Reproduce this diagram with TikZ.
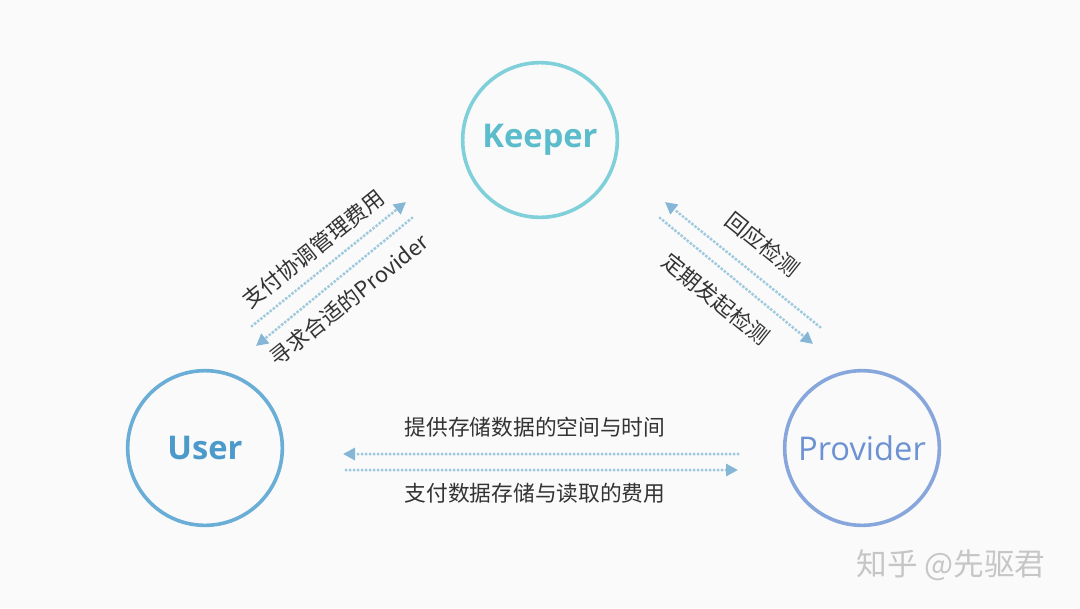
\documentclass[tikz,border=0pt]{standalone}
\usepackage{fontspec}
\setmainfont{Open Sans}
\newfontfamily\cjk{Noto Sans CJK SC}
\usetikzlibrary{arrows.meta}
\definecolor{bgc}{HTML}{FAFAFA}
\definecolor{keepc}{HTML}{80D0DA}
\definecolor{keept}{HTML}{5BBCCB}
\definecolor{userc}{HTML}{6AADD6}
\definecolor{usert}{HTML}{4C9ACB}
\definecolor{provc}{HTML}{87A6DC}
\definecolor{provt}{HTML}{6D92D3}
\definecolor{linec}{HTML}{9FC9DE}
\definecolor{tipc}{HTML}{86B6D6}
\definecolor{labc}{HTML}{333333}
\definecolor{markc}{HTML}{C6C6C6}
\tikzset{
  role/.style={circle, draw=#1, line width=2.7pt, minimum size=116pt, inner sep=0pt, font=\fontsize{24.5}{28}\selectfont},
  flow/.style={draw=linec, line width=2.6pt, line cap=round, dash pattern=on 0pt off 3pt,
    -{Triangle[length=9pt,width=9pt,fill=tipc,color=tipc,line cap=butt]}, shorten >=0pt},
  lab/.style={text=labc, font=\cjk\fontsize{16.3}{19}\selectfont, inner sep=0pt}
}
\begin{document}
\begin{tikzpicture}[x=0.75pt,y=-0.75pt]
\fill[bgc] (0,0) rectangle (1080,608);
\useasboundingbox (0,0) rectangle (1080,608);

\node[role=keepc, text=keept] (keeper) at (540,140) {\bfseries Keeper};
\node[role=userc, text=usert] (user) at (205,448) {\bfseries User};
\node[role=provc, text=provt] (provider) at (862,448) {Provider};

% left pair
\coordinate (l1s) at (252,326);
\coordinate (l1e) at (406,202);
\coordinate (l2s) at (412,218);
\coordinate (l2e) at (256,346);
\draw[flow] (l1s) -- (l1e);
\draw[flow] (l2s) -- (l2e);
\node[lab, rotate=38.6] (lt) at (313,249) {支付协调管理费用};
\node[lab, rotate=38.6] (lb) at (349,300) {寻求合适的Provider};

% right pair
\coordinate (r1s) at (820,327);
\coordinate (r1e) at (665,202);
\coordinate (r2s) at (660,218);
\coordinate (r2e) at (813,344);
\draw[flow] (r1s) -- (r1e);
\draw[flow] (r2s) -- (r2e);
\node[lab, rotate=-38.8] (rt) at (763,244) {回应检测};
\node[lab, rotate=-38.8] (rb) at (716,299) {定期发起检测};

% bottom pair
\coordinate (b1s) at (738,454);
\coordinate (b1e) at (343,454);
\coordinate (b2s) at (346,470);
\coordinate (b2e) at (738,470);
\draw[flow] (b1s) -- (b1e);
\draw[flow] (b2s) -- (b2e);
\node[lab] (bt) at (535,427) {提供存储数据的空间与时间};
\node[lab] (bb) at (535,493) {支付数据存储与读取的费用};

% watermark
\node[text=markc, font=\cjk\fontsize{23}{26}\selectfont, inner sep=0pt] (mark) at (951,565) {知乎 @先驱君};
\end{tikzpicture}
\end{document}
